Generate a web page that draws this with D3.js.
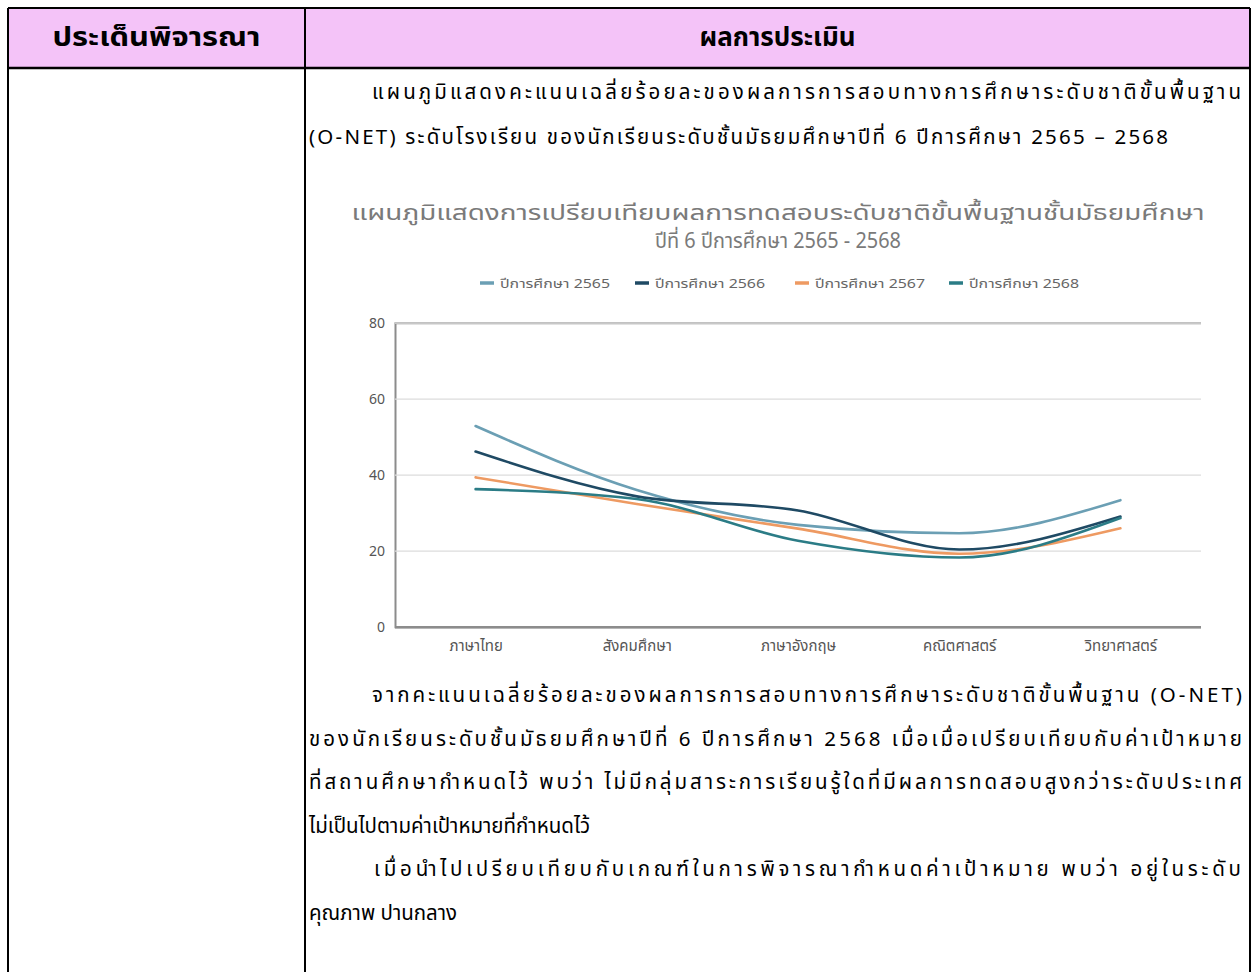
<!DOCTYPE html>
<html><head><meta charset="utf-8">
<script src="https://cdn.jsdelivr.net/npm/d3@7"></script>
<style>
html,body{margin:0;padding:0;background:#fff;}
svg{display:block;}
</style></head>
<body>
<svg id="page" width="1258" height="972"></svg>
<script>
const categories = ["ภาษาไทย", "สังคมศึกษา", "ภาษาอังกฤษ", "คณิตศาสตร์", "วิทยาศาสตร์"];
const seriesNames = ["ปีการศึกษา 2565", "ปีการศึกษา 2566", "ปีการศึกษา 2567", "ปีการศึกษา 2568"];
const values2565 = [52.8, 36.0, 26.8, 24.6, 33.3];
const values2566 = [46.1, 34.3, 30.6, 20.3, 29.0];
const values2567 = [39.3, 32.3, 25.8, 19.2, 25.9];
const values2568 = [36.2, 33.6, 22.6, 18.2, 28.6];
const seriesColors = ["#6b9fb4", "#1f4a64", "#ee9a62", "#2b7c86"];
const yTicks = [0, 20, 40, 60, 80];
const chartTitle = ["แผนภูมิแสดงการเปรียบเทียบผลการทดสอบระดับชาติขั้นพื้นฐานชั้นมัธยมศึกษา", "ปีที่ 6 ปีการศึกษา 2565 - 2568"];
const headerTexts = ["ประเด็นพิจารณา", "ผลการประเมิน"];
const introLines = ["แผนภูมิแสดงคะแนนเฉลี่ยร้อยละของผลการการสอบทางการศึกษาระดับชาติขั้นพื้นฐาน",
  "(O-NET) ระดับโรงเรียน ของนักเรียนระดับชั้นมัธยมศึกษาปีที่ 6 ปีการศึกษา 2565 – 2568"];
const bodyLines = ["จากคะแนนเฉลี่ยร้อยละของผลการการสอบทางการศึกษาระดับชาติขั้นพื้นฐาน (O-NET)",
  "ของนักเรียนระดับชั้นมัธยมศึกษาปีที่ 6 ปีการศึกษา 2568 เมื่อเมื่อเปรียบเทียบกับค่าเป้าหมาย",
  "ที่สถานศึกษากำหนดไว้ พบว่า  ไม่มีกลุ่มสาระการเรียนรู้ใดที่มีผลการทดสอบสูงกว่าระดับประเทศ",
  "ไม่เป็นไปตามค่าเป้าหมายที่กำหนดไว้",
  "เมื่อนำไปเปรียบเทียบกับเกณฑ์ในการพิจารณากำหนดค่าเป้าหมาย พบว่า อยู่ในระดับ",
  "คุณภาพ ปานกลาง"];

const series = [values2565, values2566, values2567, values2568].map((v, i) => ({name: seriesNames[i], color: seriesColors[i], values: v}));
const FONT = "'Noto Sans Thai', 'Noto Sans', 'DejaVu Sans', sans-serif";
const svg = d3.select("#page");

// ---- table ----
const tbl = {left: 8, mid: 305, right: 1250, top: 8, headBottom: 68, bottom: 972};
svg.append("rect").attr("x", tbl.left).attr("y", tbl.top).attr("width", tbl.right - tbl.left).attr("height", tbl.headBottom - tbl.top).attr("fill", "#f4c3f8");
const border = svg.append("g").attr("stroke", "#000").attr("stroke-width", 2);
border.append("line").attr("x1", tbl.left).attr("x2", tbl.right).attr("y1", tbl.top).attr("y2", tbl.top);
border.append("line").attr("x1", tbl.left).attr("x2", tbl.right).attr("y1", tbl.headBottom).attr("y2", tbl.headBottom).attr("stroke-width", 2.5);
border.append("line").attr("x1", tbl.left).attr("x2", tbl.left).attr("y1", tbl.top).attr("y2", tbl.bottom);
border.append("line").attr("x1", tbl.mid).attr("x2", tbl.mid).attr("y1", tbl.top).attr("y2", tbl.bottom);
border.append("line").attr("x1", tbl.right).attr("x2", tbl.right).attr("y1", tbl.top).attr("y2", tbl.bottom);

const headCenters = [(tbl.left + tbl.mid) / 2, (tbl.mid + tbl.right) / 2];
const headWidths = [208, 156];
svg.selectAll("text.head").data(headerTexts).join("text").attr("class", "head")
  .attr("x", (d, i) => headCenters[i] - headWidths[i] / 2)
  .attr("y", 46).attr("font-family", FONT)
  .attr("textLength", (d, i) => headWidths[i]).attr("lengthAdjust", "spacingAndGlyphs")
  .attr("font-size", 26).attr("font-weight", "bold").attr("fill", "#000").text(d => d);

// paragraph text; justified lines are stretched to the measured right edge
function para(cls, lines, xs, ends, y0, dy) {
  const t = svg.selectAll("text." + cls).data(lines).join("text").attr("class", cls)
    .attr("x", (d, i) => xs[i]).attr("y", (d, i) => y0 + i * dy)
    .attr("font-family", FONT).attr("font-size", 20.5).attr("fill", "#000").text(d => d);
  t.filter((d, i) => ends[i] !== null)
    .attr("textLength", d => ends[lines.indexOf(d)] - xs[lines.indexOf(d)])
    .attr("lengthAdjust", "spacing");
}
para("intro", introLines, [372, 309], [1241, 1168], 99, 45);
para("body", bodyLines, [372, 309, 309, 309, 374, 309], [1242, 1242, 1242, null, 1241, null], 702, 43.6);

// ---- chart ----
const plot = {left: 395, right: 1201, top: 322.7, bottom: 626.7};
const x = d3.scalePoint().domain(categories).range([plot.left, plot.right]).padding(0.5);
const y = d3.scaleLinear().domain([0, 80]).range([plot.bottom, plot.top]);

// titles
const titleWidths = [853, 246];
svg.selectAll("text.ctitle").data(chartTitle).join("text").attr("class", "ctitle")
  .attr("x", (d, i) => 778 - titleWidths[i] / 2).attr("y", (d, i) => 220 + i * 28)
  .attr("textLength", (d, i) => titleWidths[i]).attr("lengthAdjust", "spacingAndGlyphs")
  .attr("font-family", FONT).attr("font-size", 21).attr("fill", "#7a7a7a").text(d => d);

// axes + gridlines
const yAxis = d3.axisLeft(y).tickValues(yTicks).tickSize(-(plot.right - plot.left)).tickPadding(10).tickFormat(d3.format("d"));
const gy = svg.append("g").attr("transform", `translate(${plot.left},0)`).call(yAxis);
gy.select(".domain").attr("stroke", "#8c8c8c").attr("stroke-width", 2);
gy.selectAll(".tick line").attr("stroke", d => d === 0 ? "#8c8c8c" : "#dcdcdc").attr("stroke-width", d => d === 0 ? 2.5 : 1.3);
gy.selectAll(".tick text").attr("font-family", FONT).attr("font-size", 14).attr("fill", "#555");

const xAxis = d3.axisBottom(x).tickSize(0).tickPadding(14);
const gx = svg.append("g").attr("transform", `translate(0,${plot.bottom})`).call(xAxis);
gx.select(".domain").remove();
gx.selectAll(".tick text").attr("font-family", FONT).attr("font-size", 15).attr("fill", "#555");

// lines
const line = d3.line().x((d, i) => x(categories[i])).y(d => y(d)).curve(d3.curveMonotoneX);
svg.append("g").selectAll("path").data(series).join("path")
  .attr("d", d => line(d.values)).attr("fill", "none").attr("stroke", d => d.color)
  .attr("stroke-width", 2.6).attr("stroke-linejoin", "round").attr("stroke-linecap", "round");

// legend
const legendX = [480, 635, 795, 949];
const lg = svg.append("g").selectAll("g").data(series).join("g")
  .attr("transform", (d, i) => `translate(${legendX[i]},283)`);
lg.append("line").attr("x1", 0).attr("x2", 14).attr("y1", 0).attr("y2", 0).attr("stroke", d => d.color).attr("stroke-width", 3.5);
lg.append("text").attr("x", 20).attr("y", 5).attr("textLength", 110).attr("lengthAdjust", "spacingAndGlyphs")
  .attr("font-family", FONT).attr("font-size", 13).attr("fill", "#666").text(d => d.name);
</script>
</body></html>
